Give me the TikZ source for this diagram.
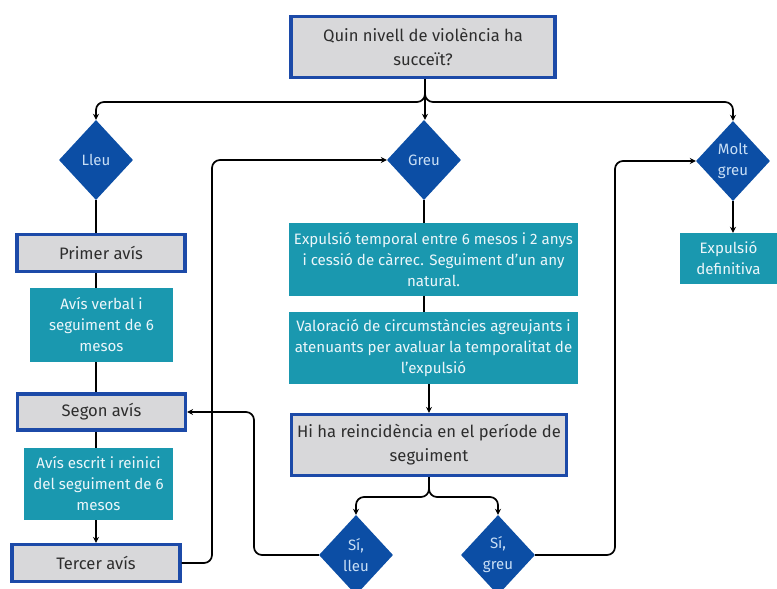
\documentclass[tikz,border=0pt]{standalone}
\usepackage{fontspec}
\setmainfont{Fira Sans}
\usetikzlibrary{shapes.geometric,arrows.meta}
\definecolor{boxblue}{RGB}{28,74,168}
\definecolor{boxgray}{RGB}{216,216,218}
\definecolor{teal1}{RGB}{26,152,175}
\definecolor{dblue}{RGB}{12,78,165}
\definecolor{dtext}{RGB}{200,222,245}
\definecolor{gtext}{RGB}{45,45,45}
\definecolor{ttext}{RGB}{236,246,250}
\tikzset{
  graybox/.style={draw=boxblue, line width=3.2pt, fill=boxgray, text=gtext, align=center, inner sep=0pt, font=\fontsize{16.6}{24}\selectfont},
  tealbox/.style={fill=teal1, text=ttext, align=center, inner sep=0pt, font=\fontsize{15.1}{21}\selectfont},
  decision/.style={diamond, fill=dblue, text=dtext, align=center, inner sep=0pt, minimum width=74pt, minimum height=80pt, font=\fontsize{15}{21}\selectfont},
  conn/.style={line width=1.7pt, black, rounded corners=8pt},
  arr/.style={conn, -{Stealth[length=6pt,width=6pt]}}
}
\begin{document}
\begin{tikzpicture}[x=1pt,y=-1pt]
\useasboundingbox (0,0) rectangle (777,589);
\fill[white] (0,0) rectangle (777,589);
% boxes
\node[graybox, minimum width=264pt, minimum height=61pt] (q) at (423,47) {Quin nivell de violència ha\\succeït?};
\node[decision] (lleu) at (96,160) {Lleu};
\node[decision] (greu) at (424,160) {Greu};
\node[decision] (molt) at (733,161) {Molt\\greu};
\node[graybox, minimum width=168pt, minimum height=37pt] (primer) at (101,253) {Primer avís};
\node[tealbox, minimum width=143pt, minimum height=74pt] (verbal) at (101.5,325) {Avís verbal i\\seguiment de 6\\mesos};
\node[graybox, minimum width=168pt, minimum height=36pt] (segon) at (101.5,412) {Segon avís};
\node[tealbox, minimum width=149pt, minimum height=72pt] (escrit) at (98.5,484) {Avís escrit i reinici\\del seguiment de 6\\mesos};
\node[graybox, minimum width=168pt, minimum height=37pt] (tercer) at (96,563) {Tercer avís};
\node[tealbox, minimum width=289pt, minimum height=73pt] (exptemp) at (433.5,259.5) {Expulsió temporal entre 6 mesos i 2 anys\\i cessió de càrrec. Seguiment d'un any\\natural.};
\node[tealbox, minimum width=289pt, minimum height=72pt] (valor) at (433.5,348) {Valoració de circumstàncies agreujants i\\atenuants per avaluar la temporalitat de\\l'expulsió};
\node[graybox, minimum width=275pt, minimum height=61pt] (hiha) at (429,445) {Hi ha reincidència en el període de\\seguiment};
\node[tealbox, minimum width=98pt, minimum height=51pt] (expdef) at (728.5,258.5) {Expulsió\\definitiva};
\node[decision] (sil) at (356,555) {Sí,\\lleu};
\node[decision] (sig) at (498,555) {Sí,\\greu};
% junctions
\coordinate (j1) at (425,102);
\coordinate (j2) at (429,497);
\coordinate (tx) at (212,0);
\coordinate (sx) at (254,0);
\coordinate (mx) at (615,0);
% connectors
\draw[arr] (q.south -| j1) |- (lleu.north |- j1) -- (lleu.north);
\draw[arr] (q.south -| j1) |- (molt.north |- j1) -- (molt.north);
\draw[arr] (q.south -| j1) -- (greu.north -| j1);
\draw[conn] (lleu.south) -- (lleu.south |- primer.north);
\draw[conn] (primer.south -| lleu.south) -- (verbal.north -| lleu.south);
\draw[conn] (verbal.south -| lleu.south) -- (segon.north -| lleu.south);
\draw[conn] (segon.south -| lleu.south) -- (escrit.north -| lleu.south);
\draw[arr] (escrit.south -| lleu.south) -- (tercer.north -| lleu.south);
\draw[arr] (tercer.east) -| (tx |- greu.west) -- (greu.west);
\draw[conn] (greu.south) -- (greu.south |- exptemp.north);
\draw[conn] (exptemp.south -| greu.south) -- (valor.north -| greu.south);
\draw[arr] (valor.south -| hiha.north) -- (hiha.north);
\draw[arr] (hiha.south) |- (sil.north |- j2) -- (sil.north);
\draw[arr] (hiha.south) |- (sig.north |- j2) -- (sig.north);
\draw[arr] (sil.west) -| (sx |- segon.east) -- (segon.east);
\draw[arr] (sig.east) -| (mx |- molt.west) -- (molt.west);
\draw[arr] (molt.south) -- (expdef.north -| molt.south);
\end{tikzpicture}
\end{document}
